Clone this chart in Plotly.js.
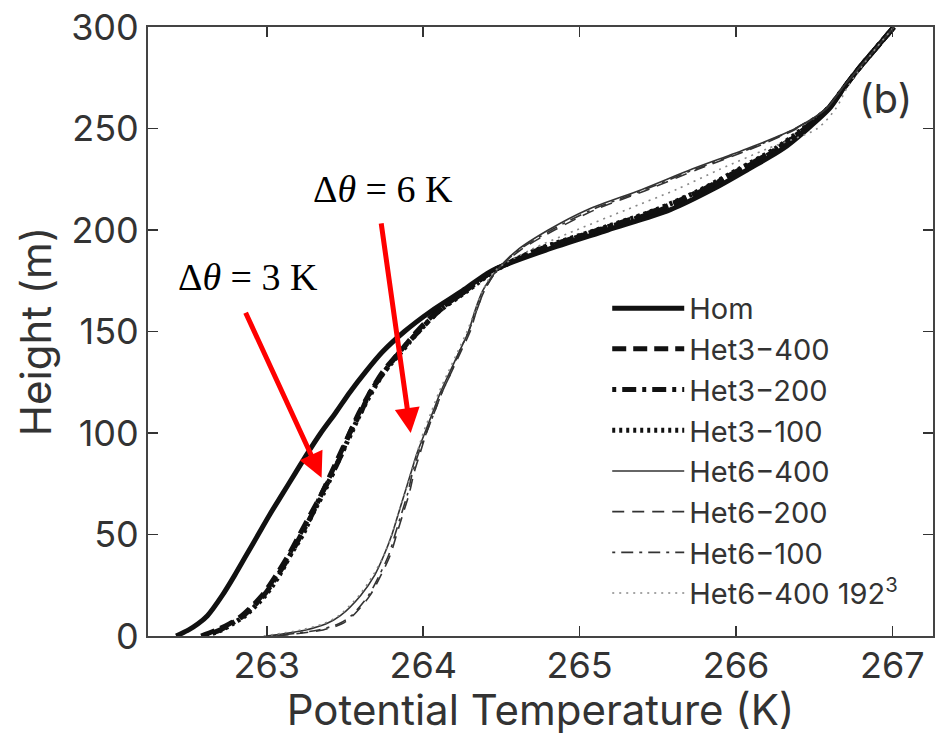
<!DOCTYPE html>
<html>
<head>
<meta charset="utf-8">
<script src="https://cdn.plot.ly/plotly-3.0.1.min.js"></script>
<style>html,body{margin:0;padding:0;background:#fff;}#chart{width:945px;height:735px;}</style>
</head>
<body>
<div id="chart"></div>
<script>
// Heights (m) shared by all series
const heights = [0, 3, 6, 10, 20, 30, 40, 50, 60, 70, 80, 90, 100, 110, 120, 130, 140, 150, 160, 170, 180, 190, 200, 210, 220, 230, 240, 250, 260, 270, 280, 290, 300];

// Potential temperature (K) for each run
const hom      = [262.42, 262.50, 262.56, 262.62, 262.715, 262.795, 262.87, 262.945, 263.02, 263.10, 263.18, 263.26, 263.345, 263.44, 263.53, 263.63, 263.74, 263.88, 264.05, 264.25, 264.44, 264.78, 265.18, 265.58, 265.85, 266.08, 266.30, 266.46, 266.60, 266.69, 266.79, 266.90, 267.01];
const het3_400 = [262.58, 262.68, 262.76, 262.84, 262.97, 263.06, 263.14, 263.21, 263.28, 263.35, 263.41, 263.47, 263.53, 263.59, 263.66, 263.74, 263.85, 263.96, 264.09, 264.27, 264.45, 264.74, 265.13, 265.52, 265.80, 266.04, 266.27, 266.44, 266.59, 266.69, 266.79, 266.90, 267.01];
const het3_200 = [262.60, 262.70, 262.77, 262.85, 262.98, 263.07, 263.15, 263.22, 263.29, 263.35, 263.42, 263.48, 263.53, 263.60, 263.66, 263.75, 263.85, 263.97, 264.10, 264.27, 264.45, 264.73, 265.12, 265.50, 265.79, 266.03, 266.26, 266.44, 266.59, 266.69, 266.79, 266.90, 267.01];
const het3_100 = [262.61, 262.71, 262.78, 262.86, 262.99, 263.08, 263.15, 263.23, 263.29, 263.36, 263.42, 263.48, 263.54, 263.60, 263.67, 263.75, 263.86, 263.97, 264.10, 264.28, 264.46, 264.72, 265.11, 265.49, 265.78, 266.02, 266.25, 266.43, 266.59, 266.69, 266.79, 266.90, 267.01];
const het6_400 = [263.00, 263.25, 263.38, 263.47, 263.60, 263.69, 263.75, 263.80, 263.84, 263.88, 263.92, 263.96, 264.01, 264.06, 264.11, 264.17, 264.23, 264.29, 264.33, 264.38, 264.47, 264.60, 264.80, 265.05, 265.40, 265.72, 266.07, 266.38, 266.58, 266.68, 266.79, 266.90, 267.01];
const het6_200 = [263.06, 263.36, 263.48, 263.55, 263.66, 263.73, 263.79, 263.83, 263.87, 263.91, 263.94, 263.98, 264.02, 264.07, 264.12, 264.18, 264.24, 264.30, 264.34, 264.39, 264.47, 264.62, 264.84, 265.10, 265.44, 265.76, 266.10, 266.39, 266.58, 266.68, 266.79, 266.90, 267.01];
const het6_100 = [263.04, 263.33, 263.46, 263.54, 263.65, 263.72, 263.78, 263.82, 263.86, 263.90, 263.93, 263.97, 264.02, 264.07, 264.12, 264.18, 264.23, 264.29, 264.34, 264.39, 264.47, 264.61, 264.82, 265.08, 265.42, 265.74, 266.09, 266.38, 266.58, 266.68, 266.79, 266.90, 267.01];
const het6_192 = [262.98, 263.22, 263.36, 263.46, 263.59, 263.68, 263.75, 263.80, 263.84, 263.88, 263.92, 263.96, 264.00, 264.05, 264.10, 264.16, 264.22, 264.28, 264.33, 264.38, 264.46, 264.68, 264.98, 265.30, 265.62, 265.90, 266.20, 266.52, 266.64, 266.71, 266.80, 266.90, 267.01];

const seriesNames = ['Hom', 'Het3\u2212400', 'Het3\u2212200', 'Het3\u2212100', 'Het6\u2212400', 'Het6\u2212200', 'Het6\u2212100', 'Het6\u2212400 192<sup>3</sup>'];
const seriesData = [hom, het3_400, het3_200, het3_100, het6_400, het6_200, het6_100, het6_192];
const seriesStyles = [
  {color: '#111', width: 5, dash: 'solid'},
  {color: '#111', width: 5, dash: '14px,7px'},
  {color: '#111', width: 5, dash: '4px,6px,14px,6px'},
  {color: '#111', width: 5, dash: '3px,4px'},
  {color: '#333', width: 1.6, dash: 'solid'},
  {color: '#333', width: 1.6, dash: '12px,8px'},
  {color: '#333', width: 1.6, dash: '3px,6px,12px,6px'},
  {color: '#888', width: 1.6, dash: '2px,5px'}
];

// Annotation labels and arrow endpoints (data coords)
const arrowLabels = ['\u0394<i>\u03b8</i> = 3 K', '\u0394<i>\u03b8</i> = 6 K'];
const labelX = [262.88, 263.74];
const labelY = [177, 220];
const arrowTipX = [263.35, 263.92];
const arrowTipY = [78, 100];
const arrowTailX = [262.86, 263.73];
const arrowTailY = [160, 204];

const FONT = 'Inter, Liberation Sans, Arial, sans-serif';

const traces = seriesData.map((xs, i) => ({
  type: 'scatter', mode: 'lines',
  x: xs, y: heights, name: seriesNames[i],
  line: Object.assign({shape: 'spline', smoothing: 0.8}, seriesStyles[i]),
  hoverinfo: 'skip'
}));

const annotations = [];
for (let i = 0; i < arrowLabels.length; i++) {
  annotations.push({
    x: labelX[i], y: labelY[i], xref: 'x', yref: 'y', text: arrowLabels[i], showarrow: false,
    font: {family: 'Liberation Serif, Times New Roman, serif', size: 38, color: '#000'}
  });
  annotations.push({
    x: arrowTipX[i], y: arrowTipY[i], xref: 'x', yref: 'y',
    ax: arrowTailX[i], ay: arrowTailY[i], axref: 'x', ayref: 'y',
    text: '', showarrow: true, arrowhead: 2, arrowsize: 1, arrowwidth: 5, arrowcolor: '#ff0000', standoff: 0
  });
}
annotations.push({
  x: 0.94, y: 0.883, xref: 'paper', yref: 'paper', xanchor: 'center', yanchor: 'middle',
  text: '(b)', showarrow: false,
  font: {family: FONT, size: 40, color: '#333'}
});

const axisCommon = {
  ticks: 'inside', ticklen: 10, tickwidth: 1.5, tickcolor: '#333',
  showline: true, linecolor: '#444', linewidth: 2, mirror: 'ticks',
  showgrid: false, zeroline: false,
  tickfont: {family: FONT, size: 36, color: '#333'}
};

const layout = {
  width: 945, height: 735,
  margin: {l: 148, r: 12, t: 27, b: 99},
  paper_bgcolor: '#fff', plot_bgcolor: '#fff',
  showlegend: true,
  legend: {
    x: 0.585, y: 0.58, xanchor: 'left', yanchor: 'top',
    bgcolor: 'rgba(0,0,0,0)', borderwidth: 0, itemwidth: 72, tracegroupgap: 0,
    font: {family: FONT, size: 29, color: '#333'}
  },
  xaxis: Object.assign({}, axisCommon, {
    range: [262.24, 267.26], tickvals: [263, 264, 265, 266, 267], ticklabelstandoff: -3,
    title: {text: 'Potential Temperature (K)', standoff: 0,
            font: {family: FONT, size: 42, color: '#333'}}
  }),
  yaxis: Object.assign({}, axisCommon, {
    range: [0, 300], tickvals: [0, 50, 100, 150, 200, 250, 300],
    title: {text: 'Height (m)', standoff: 6,
            font: {family: FONT, size: 42, color: '#333'}}
  }),
  annotations: annotations
};

Plotly.newPlot('chart', traces, layout, {displayModeBar: false, staticPlot: true});
</script>
</body>
</html>
